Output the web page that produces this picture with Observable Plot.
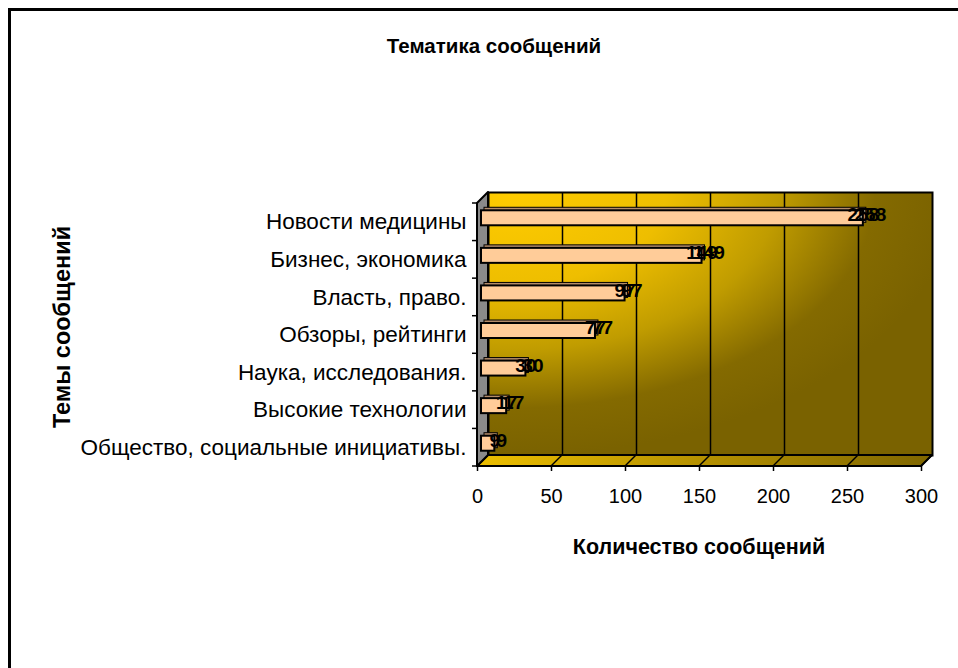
<!DOCTYPE html>
<html>
<head>
<meta charset="utf-8">
<script src="https://cdn.jsdelivr.net/npm/d3@7"></script>
<script src="https://cdn.jsdelivr.net/npm/@observablehq/plot@0.6"></script>
<style>
  html, body { margin: 0; padding: 0; background: #fff; overflow: hidden; }
  #wrap { position: relative; width: 958px; height: 668px; font-family: Arial, "Liberation Sans", sans-serif; }
  #border { position: absolute; left: 8px; top: 8px; width: 1000px; height: 1000px; border-left: 3px solid #000; border-top: 3px solid #000; box-sizing: border-box; }
  .ttl { position: absolute; font-weight: bold; color: #000; white-space: nowrap; transform: translate(-50%, -50%); }
  #chart { position: absolute; left: 0; top: 0; }
</style>
</head>
<body>
<div id="wrap">
  <div id="border"></div>
  <div id="chart"></div>
  <div class="ttl" id="title" style="left:494px; top:46px; font-size:20.5px;">Тематика сообщений</div>
  <div class="ttl" id="xtitle" style="left:699px; top:547px; font-size:21.5px;">Количество сообщений</div>
  <div class="ttl" id="ytitle" style="left:62px; top:327px; font-size:23.5px; transform: translate(-50%, -50%) rotate(-90deg);">Темы сообщений</div>
</div>
<script>
const categories = [
  "Новости медицины",
  "Бизнес, экономика",
  "Власть, право.",
  "Обзоры, рейтинги",
  "Наука, исследования.",
  "Высокие технологии",
  "Общество, социальные инициативы."
];
const values = [258, 149, 97, 77, 30, 17, 9];
const xTicks = [0, 50, 100, 150, 200, 250, 300];

const data = categories.map((c, i) => ({cat: c, value: values[i]}));

const D = 11;       // depth of the pseudo-3D box
const BD = 3;       // depth of bars

function defsMark() {
  const g = d3.create("svg:g");
  const defs = g.append("defs");
  const wall = defs.append("radialGradient").attr("id", "wallGrad")
    .attr("cx", 0.05).attr("cy", 0).attr("fx", 0.05).attr("fy", 0).attr("r", 1);
  [[0, "#FFCC00"], [0.35, "#EEBE00"], [0.6, "#C09C00"], [0.82, "#846A00"], [1, "#7A6200"]]
    .forEach(([o, c]) => wall.append("stop").attr("offset", o).attr("stop-color", c));
  const floor = defs.append("linearGradient").attr("id", "floorGrad")
    .attr("x1", 0).attr("y1", 0).attr("x2", 1).attr("y2", 0);
  [[0, "#ECBE00"], [0.5, "#B49000"], [1, "#7F6600"]]
    .forEach(([o, c]) => floor.append("stop").attr("offset", o).attr("stop-color", c));
  return g.node();
}

function wallsMark(index, scales, vals, dims) {
  const L = dims.marginLeft, T = dims.marginTop;
  const R = dims.width - dims.marginRight, B = dims.height - dims.marginBottom;
  const g = d3.create("svg:g");
  // floor
  g.append("path")
    .attr("d", `M${L},${B}L${R},${B}L${R + D},${B - D}L${L + D},${B - D}Z`)
    .attr("fill", "url(#floorGrad)").attr("stroke", "#000").attr("stroke-width", 2)
    .attr("stroke-linejoin", "round");
  // floor grid lines
  xTicks.forEach(v => {
    const x = scales.x(v);
    g.append("line").attr("x1", x).attr("y1", B).attr("x2", x + D).attr("y2", B - D)
      .attr("stroke", "#000").attr("stroke-width", 1.5);
  });
  // left wall
  g.append("path")
    .attr("d", `M${L},${T}L${L + D},${T - D}L${L + D},${B - D}L${L},${B}Z`)
    .attr("fill", "#8A8A8A").attr("stroke", "#000").attr("stroke-width", 2)
    .attr("stroke-linejoin", "round");
  // y ticks between categories
  const n = categories.length;
  const step = (B - T) / n;
  for (let i = 0; i <= n; i++) {
    const y = T + i * step;
    g.append("line").attr("x1", L - 5).attr("x2", L).attr("y1", y).attr("y2", y)
      .attr("stroke", "#000").attr("stroke-width", 1.5);
  }
  return g.node();
}

const bandPx = (668 - 203 - 202) / categories.length;
const inset = (bandPx - 15) / 2;

const chart = Plot.plot({
  width: 958,
  height: 668,
  marginLeft: 477,
  marginRight: 37,
  marginTop: 203,
  marginBottom: 202,
  style: {background: "transparent", color: "#000", fontFamily: "Arial, 'Liberation Sans', sans-serif"},
  x: {domain: [0, 300], ticks: xTicks},
  y: {domain: categories, padding: 0, round: false},
  marks: [
    defsMark,
    Plot.frame({fill: "url(#wallGrad)", stroke: "#000", strokeWidth: 2, dx: D, dy: -D}),
    Plot.ruleX(xTicks.filter(v => v > 0 && v < 300), {dx: D, dy: -D, stroke: "#000", strokeWidth: 1.5}),
    wallsMark,
    Plot.axisX({ticks: xTicks, tickSize: 5, tickPadding: 17, fontSize: 20, label: null, stroke: "#000", strokeWidth: 1.5}),
    Plot.axisY({tickSize: 0, tickPadding: 11, fontSize: 22.5, label: null}),
    // back/side faces of the bars
    Plot.rectX(data, {x: "value", y: "cat", dx: 4 + BD, dy: -4 - BD, insetTop: inset, insetBottom: inset,
      fill: "#B48C6A", stroke: "#000", strokeWidth: 1}),
    // front faces of the bars
    Plot.rectX(data, {x: "value", y: "cat", dx: 4, dy: -4, insetTop: inset, insetBottom: inset,
      fill: "#FFCC99", stroke: "#000", strokeWidth: 2}),
    // doubled value labels (as in the reference)
    Plot.text(data, {x: "value", y: "cat", text: d => String(d.value), dx: 4, dy: -7,
      fontSize: 19, fontWeight: "bold", fill: "#000"}),
    Plot.text(data, {x: "value", y: "cat", text: d => String(d.value), dx: 11, dy: -7,
      fontSize: 19, fontWeight: "bold", fill: "#000"})
  ]
});
document.getElementById("chart").appendChild(chart);
</script>
</body>
</html>
